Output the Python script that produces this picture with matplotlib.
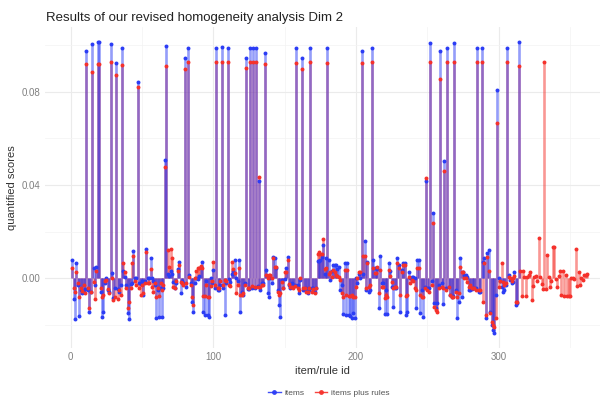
import numpy as np
import matplotlib.pyplot as plt
from matplotlib.lines import Line2D
from matplotlib.ticker import FixedLocator

plt.rcParams['font.family'] = ['Liberation Sans', 'DejaVu Sans']

# quantified scores, in thousandths (item/rule id starts at 1)
items = [
    7.9, -8.9, -17.4, 6.4, -3, -16, -5, -6.4, -5.7, -4.5,            # 1-10
    97.6, -5, -14.6, -5.7, 100.3, 4.6, -3, 5, 101.5, 101.2,          # 11-20
    -6, -16.4, -14.6, -2, 0, -5, -5.7, 100.3, 2.4, -8.6,             # 21-30
    -4.3, 92.2, -4.5, -6, -3, 98.6, 3, 0.7, -3, -15,                 # 31-40
    -17.4, -2.5, -2, 11.7, 0.3, 0, 84, -2, -2.5, -1,                 # 41-50
    -7.3, -1, 12.4, 0, 0, 8.6, 0, -1, -3, -17.1,                     # 51-60
    -5, -16.4, -4, -16.4, -4.3, 50.8, 99.5, 2, 1, 3,                 # 61-70
    2, -1.5, -4.3, -2, 4, 6.9, -6.4, -1, -2, 94.6,                   # 71-80
    -3.6, 98.6, 1.4, -2, -10.3, -14.6, -2, 0, -0.3, 1,               # 81-90
    5, 6.9, -14.6, -15.7, -1, -15.7, -16.4, 0, -2, 3.6,              # 91-100
    -4, 99, -5, -5, -3, 99.2, -4, -15.7, -2, 98.9,                   # 101-110
    -0.3, -1.4, 2, 3, 7.9, 0, -1, 7.9, -14.6, -5.7,                  # 111-120
    -7.1, -2, 94.5, -4.6, -4.6, 98.9, -4, 98.9, -4.3, 98.9,          # 121-130
    -3.1, 41.9, -5, -2, -2.1, 96.5, 3.6, -6.4, -7.9, 0,              # 131-140
    -2.1, 9.3, 8.6, 4.3, -5, -11.4, -16.4, -0.7, -4.3, -0.3,         # 141-150
    4.3, 9.3, -3, -4.3, -2.1, -3, -3, 98.7, -2.9, -6.4,              # 151-160
    -0.7, 94.5, -5, -5, -4.3, -6.4, -5, 98.6, -4.3, -4,              # 161-170
    -5.7, -4, 7.4, 7.4, 7.8, 9.3, 14.3, 2, 8.6, 98.7,                # 171-180
    7.9, -0.7, 3, 5.7, 5.7, 5.7, 4, 5, -5, -2.9,                     # 181-190
    -15.3, 6.4, -15.7, 6.4, -15.7, -16, -17.1, -15, -17.1, 0,        # 191-200
    -2.1, 2, 0, 97.4, 2, 15.8, -5, 7.1, -5.7, -5,                    # 201-210
    98.9, 7.9, 4.3, 4.3, 4, -12.9, 9.7, -2.1, -2, -15.3,             # 211-220
    -5, -15.3, 6.4, 3, -3.6, -12.1, -4.3, -4.3, 8.6, 5.7,            # 221-230
    -14.3, 3.6, 6.4, 6.4, -15.7, -14.6, 2.9, 0, 0.7, 0.5,            # 231-240
    0, -12.9, 7.9, 7.9, -15, -5, -16.4, -3.6, 41.9, -4.3,            # 241-250
    -4.3, 101, -1, 28, -10.7, -12.9, -10.7, -3, 97.3, -2,            # 251-260
    -11, 50.5, -4.3, 98.8, -3.9, -7.1, -7.9, -7.4, 101.1, -5,        # 261-270
    -17.1, -10, 8.6, -7.9, 2.9, 1.4, 1.4, 0.7, -5, -5,               # 271-280
    -4.6, -4, -4, -4.3, 98.8, -5.7, -6, 98.9, 7.1, 8.6,              # 281-290
    -17.1, 10.7, 12.1, -14.3, -20, -22.1, -23.6, -7.1, 80.7, 0,      # 291-300
    -1, -3.6, -5.7, -5, -3, 98.8, 1.4, -0.7, -2, -1.4,               # 301-310
    2.9, -11.4, -10.7, 101.4,                                        # 311-314
]

items_plus_rules = [
    4.3, -4.3, -6, 2.9, -2, -8, -4, -5.5, -3, -6.4,                  # 1-10
    91.9, -4, -12.6, -6, 88.5, -1.5, -8.9, 3, 92, 92,                # 11-20
    -4, -7.9, -7, -1, -0.7, -4.5, -6.4, 92.9, 0, -9.4,               # 21-30
    -7.9, 87.3, -8.9, -5, -7, 91.3, 6.7, 2.7, -4, -12.9,             # 31-40
    -10, -4, 6.7, 9.7, -1, -3, 82, -4.3, -7.1, -3,                   # 41-50
    -6.4, -2, 11.1, -2, -2, 4, -3.6, -6, -2, -7.9,                   # 51-60
    -4, -7.5, -2, -5, -3, 47.7, 91.2, 12.1, 5, 12.6,                 # 61-70
    8.6, -3.6, -4.3, -1, 3, 5.7, -1.4, -2, -3, 89.9,                 # 71-80
    -2, 92.6, 0.7, -3, -7.9, -11.4, 0.3, 3, 4.3, 4.3,                # 81-90
    5.4, 4.3, -7.4, -7.4, -3, -7.9, -7.9, -3.3, -1, 6.9,             # 91-100
    -3, 92.8, -4.3, -4.3, -1, 92.8, -3, -0.7, -1, 92.8,              # 101-110
    -3, -3.1, 6.9, 4, 2.1, -6.4, -3, 4.3, -7.1, -7.1,                # 111-120
    -6.4, -3, 90.1, -4.3, -4.3, 92.8, -3.5, 92.8, -3.6, 92.7,        # 121-130
    -3.6, 43.3, -3.6, -2.9, -2.9, 91.9, 1.4, 0, 1.4, 1.4,            # 131-140
    0, 8.6, 5, 5, -5.7, -7.1, -6.4, -1.4, -4, 2.9,                   # 141-150
    2.9, 7.9, -2.5, -3.6, -3.6, -4.3, -3.5, 92.5, -4.3, -5,          # 151-160
    0, 89.9, -4.3, -4.3, -5.7, -5.7, -4, 92.8, -5.7, -4.5,           # 161-170
    -6.4, -4.3, 10.4, 11.4, 10.4, 10.4, 16.8, 4, 4.3, 92.5,          # 171-180
    2, 2.9, 0.7, 3.6, 2.5, 1.4, 1, 0.7, -0.7, -6.4,                  # 181-190
    -7.9, 3.6, -7.1, 3.6, -7.4, -7.4, -7.1, -7.9, -8, -3.6,          # 191-200
    0, 2.9, 2.9, 92.5, 9.7, 9.6, -4.3, 6.4, -3.6, -3,                # 201-210
    92.7, 4.3, 2.1, 2.1, 5, -6.4, 3.6, -3.6, -3.6, -8.6,             # 211-220
    -7.1, -7.9, 3.6, 1, -1.4, -4, -3.6, -3.6, 6.4, 4.3,              # 221-230
    -7.1, 2.9, 5.7, 5.7, -7.4, -7.1, 0.7, -2.1, -0.7, -1,            # 231-240
    -4.3, -5, 4.3, 4.3, -7.1, -7.9, -7.9, -4.3, 43.1, -5,            # 241-250
    -5.7, 92.8, -3, 23.8, -12.1, -13.6, -14.6, -4, 85.6, -3.6,       # 251-260
    -4, 45.9, -5, 92.8, -3.6, -7.1, -7.9, -7.9, 92.8, -6,            # 261-270
    -7.9, -6.4, 5, 2.9, 2.9, 0, 0, -1.4, -3.6, -3,                   # 271-280
    -4, -4, -4, -5, 92.8, -5, -5, 92.8, -10, 6.4,                    # 281-290
    -15.7, 9.3, 3.3, -15, -18.6, -20, -20.7, -17.1, 66.7, -3.6,      # 291-300
    -1, 6.6, -1.4, -3, -2, 92.8, 0.7, 0, -1, 0,                      # 301-310
    1, -10, -10, 91.2, 3.3, -7.4, 3.3, 0.7, -7.4, 0.7,               # 311-320
    1.4, 2.5, -9.3, -3.3, 0.7, 1, -1, 17.5, 0.7, -2.4,               # 321-330
    -4.7, 92.8, -4.7, 9.9, 0.7, -3.6, -1, 13.6, 13.6, -0.3,          # 331-340
    -3.6, 1, 3.3, -7, 3.3, -7.6, 1.4, -7.6, -7.6, -7.6,              # 341-350
    0, 0, -0.3, 12.5, -3.4, 2.5, -3, 0, -0.7, 1.4,                   # 351-360
    1.4, 2,                                                          # 361-362
]

y_items = np.array(items) / 1000
y_rules = np.array(items_plus_rules) / 1000
x_items = np.arange(1, len(y_items) + 1)
x_rules = np.arange(1, len(y_rules) + 1)

blue = '#2b3cf5'
red = '#f5312b'

fig = plt.figure(figsize=(6.06, 4.01), dpi=100)
ax = fig.add_axes([45 / 606, 1 - 348 / 401, 555 / 606, 321 / 401])

# red stems under the blue ones, so the overlap comes out violet
ax.vlines(x_rules, 0, y_rules, color=red, alpha=0.5, lw=1.9, zorder=2)
ax.vlines(x_items, 0, y_items, color=blue, alpha=0.5, lw=1.9, zorder=3)
ax.scatter(x_items, y_items, s=8, color=blue, lw=0, zorder=4)
ax.scatter(x_rules, y_rules, s=8, color=red, lw=0, zorder=5)

ax.set_xlim(-18, 371)
ax.set_ylim(-0.0299, 0.1078)
ax.xaxis.set_major_locator(FixedLocator([0, 100, 200, 300]))
ax.xaxis.set_minor_locator(FixedLocator([50, 150, 250, 350]))
ax.yaxis.set_major_locator(FixedLocator([0.0, 0.04, 0.08]))
ax.yaxis.set_minor_locator(FixedLocator([-0.02, 0.02, 0.06, 0.10]))
ax.set_yticklabels(['0.00', '0.04', '0.08'])
ax.grid(which='major', color='#ebebeb', lw=0.8)
ax.grid(which='minor', color='#f3f3f3', lw=0.5)
ax.set_axisbelow(True)
for s in ax.spines.values():
    s.set_visible(False)
ax.tick_params(which='both', length=0, labelsize=7, labelcolor='#808080', pad=3)

ax.set_xlabel('item/rule id', fontsize=8, color='#333333', labelpad=3)
ax.set_ylabel('quantified scores', fontsize=8, color='#333333', labelpad=4)
fig.text(46 / 606, 1 - 18 / 401, 'Results of our revised homogeneity analysis Dim 2',
         fontsize=9.5, color='#222222', va='center', ha='left')

handles = [Line2D([], [], color=blue, marker='o', markersize=2.5, lw=1, alpha=0.9),
           Line2D([], [], color=red, marker='o', markersize=2.5, lw=1, alpha=0.9)]
fig.legend(handles, ['items', 'items plus rules'], loc='center', ncol=2,
           bbox_to_anchor=(329 / 606, 1 - 393 / 401), frameon=False, fontsize=6,
           labelcolor='#555555', handlelength=1.5, columnspacing=1.2, handletextpad=0.5)

fig.savefig('out.png', dpi=100)
